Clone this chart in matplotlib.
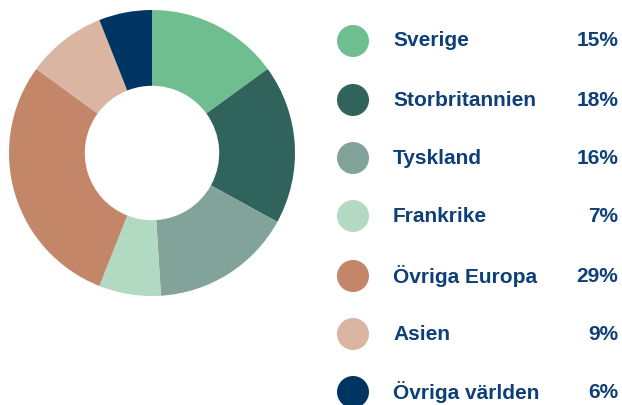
import matplotlib
matplotlib.use("Agg")
import matplotlib.pyplot as plt
from matplotlib.patches import Circle

# data
labels = ["Sverige", "Storbritannien", "Tyskland", "Frankrike",
          "Övriga Europa", "Asien", "Övriga världen"]
shares = [15, 18, 16, 7, 29, 9, 6]
colors = ["#6fbe8f", "#30635b", "#82a39a", "#b2d9c1",
          "#c38669", "#d9b5a2", "#003463"]
text_color = "#0d3f78"

W, H = 622, 405
fig = plt.figure(figsize=(W / 100, H / 100), dpi=100)

# donut
ax = fig.add_axes([9 / W, (H - 296) / H, 286 / W, 286 / H])
ax.pie(shares, colors=colors, startangle=90, counterclock=False,
       wedgeprops=dict(width=0.53, linewidth=0))
ax.set_xlim(-1, 1)
ax.set_ylim(-1, 1)
ax.set_aspect("equal")
ax.axis("off")

# legend drawn in pixel coordinates
lax = fig.add_axes([0, 0, 1, 1])
lax.set_xlim(0, W)
lax.set_ylim(H, 0)
lax.axis("off")
row_y = [41, 100, 158, 216, 276, 334, 392]
for i in range(len(labels)):
    y = row_y[i]
    lax.add_patch(Circle((353, y), 16, color=colors[i], linewidth=0))
    lax.text(393, y, labels[i], fontsize=15, fontweight="bold",
             family="Liberation Sans", color=text_color, va="center", ha="left")
    lax.text(618, y, f"{shares[i]}%", fontsize=15, fontweight="bold",
             family="Liberation Sans", color=text_color, va="center", ha="right")

fig.savefig("out.png", dpi=100)
